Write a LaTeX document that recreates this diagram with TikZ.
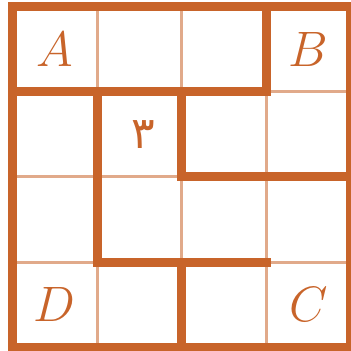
\documentclass[tikz,border=0pt]{standalone}
\usepackage{fontspec}
\usepackage{tikz}
\newfontfamily\arabicfont[Script=Arabic]{DejaVu Sans}
\definecolor{GridOrange}{HTML}{C8642A}

\begin{document}
\begin{tikzpicture}[
  x=42.25pt, y=-42.5pt,
  thinline/.style={draw=GridOrange!55, line width=1.5pt},
  wall/.style={draw=GridOrange, line width=4.5pt, line join=miter, line cap=rect},
  corner/.style={text=GridOrange, font=\fontsize{24}{28}\selectfont},
]
\useasboundingbox (-0.148,-0.082) rectangle (3.994,4.047);
% thin cell lines
\foreach \k in {1,2,3} {
  \draw[thinline] (\k,0) -- (\k,4);
  \draw[thinline] (0,\k) -- (4,\k);
}
% thick walls
\draw[wall] (0,0) rectangle (4,4);
\draw[wall] (0,1) -- (3,1) -- (3,0);
\draw[wall] (3,3) -- (1,3) -- (1,1);
\draw[wall] (2,1) -- (2,2) -- (4,2);
\draw[wall] (2,3) -- (2,4);
% labels
\node[corner] (a) at (0.5,0.5) {$A$};
\node[corner] (b) at (3.5,0.5) {$B$};
\node[corner] (c) at (3.5,3.5) {$C$};
\node[corner] (d) at (0.5,3.5) {$D$};
\node[text=GridOrange, font=\arabicfont\fontsize{22}{26}\selectfont] (three) at (1.55,1.5) {٣};
\end{tikzpicture}
\end{document}
